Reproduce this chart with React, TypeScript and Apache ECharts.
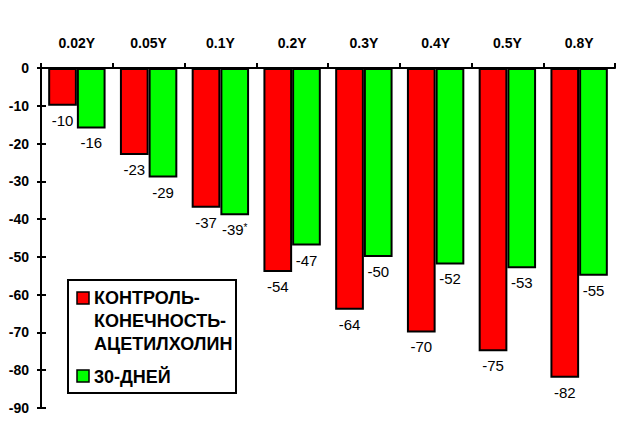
import React, { useEffect, useRef } from "react";
import * as echarts from "echarts";

const categories = ["0.02Y", "0.05Y", "0.1Y", "0.2Y", "0.3Y", "0.4Y", "0.5Y", "0.8Y"];
const controlValues = [-10, -23, -37, -54, -64, -70, -75, -82];
const dayValues = [-16, -29, -39, -47, -50, -52, -53, -55];
const dayMarks = ["", "", "*", "", "", "", "", ""];
const controlName = "КОНТРОЛЬ-\nКОНЕЧНОСТЬ-\nАЦЕТИЛХОЛИН";
const dayName = "30-ДНЕЙ";

const FONT = '"Liberation Sans", Arial, sans-serif';

export default function App() {
  const ref = useRef<HTMLDivElement>(null);
  useEffect(() => {
    document.body.style.margin = "0";
    if (!ref.current) return;
    const chart = echarts.init(ref.current, undefined, { renderer: "svg" });
    const labelBase = {
      show: true,
      position: "bottom" as const,
      distance: 7,
      color: "#000",
      fontFamily: FONT,
      fontSize: 15,
    };
    chart.setOption({
      animation: false,
      backgroundColor: "#fff",
      textStyle: { fontFamily: FONT },
      grid: { left: 41, right: 17, top: 68, bottom: 34, containLabel: false },
      xAxis: {
        type: "category",
        position: "top",
        data: categories,
        axisLine: { show: true, lineStyle: { color: "#000", width: 2 } },
        axisTick: { show: true, length: 5, lineStyle: { color: "#000", width: 2 } },
        axisLabel: { color: "#000", fontWeight: "bold", fontSize: 14, fontFamily: FONT, margin: 18 },
        splitLine: { show: false },
      },
      yAxis: [
        {
          type: "value",
          min: -90,
          max: 0,
          interval: 10,
          axisLine: { show: true, lineStyle: { color: "#000", width: 2 } },
          axisTick: { show: true, length: 4, lineStyle: { color: "#000", width: 2 } },
          axisLabel: { color: "#000", fontWeight: "bold", fontSize: 14, fontFamily: FONT, margin: 12 },
          splitLine: { show: false },
        },
        {
          type: "value",
          position: "left",
          min: -90,
          max: 0,
          interval: 10,
          axisLine: { show: false },
          axisTick: { show: true, inside: true, length: 5, lineStyle: { color: "#000", width: 2 } },
          axisLabel: { show: false },
          splitLine: { show: false },
        },
      ],
      series: [
        {
          name: controlName,
          type: "bar",
          data: controlValues,
          barGap: "0%",
          barCategoryGap: "20%",
          itemStyle: { color: "#ff0000", borderColor: "#000", borderWidth: 2 },
          label: { ...labelBase },
        },
        {
          name: dayName,
          type: "bar",
          data: dayValues,
          barGap: "0%",
          barCategoryGap: "20%",
          itemStyle: { color: "#00ff00", borderColor: "#000", borderWidth: 2 },
          label: {
            ...labelBase,
            formatter: (p: any) =>
              dayMarks[p.dataIndex] ? `{v|${p.value}}{s|${dayMarks[p.dataIndex]}}` : `{v|${p.value}}`,
            rich: {
              v: { fontSize: 15, fontFamily: FONT, color: "#000" },
              s: { fontSize: 10, fontFamily: FONT, color: "#000", padding: [0, 0, 5, 0] },
            },
          },
        },
      ],
      graphic: [
        {
          type: "rect",
          shape: { x: 68, y: 280, width: 168, height: 113 },
          style: { fill: "#fff", stroke: "#000", lineWidth: 2 },
          z: 10,
        },
        {
          type: "rect",
          shape: { x: 77, y: 292, width: 12, height: 12 },
          style: { fill: "#ff0000", stroke: "#000", lineWidth: 1.5 },
          z: 11,
        },
        {
          type: "text",
          x: 94,
          y: 286.5,
          style: {
            text: controlName,
            font: `bold 18px ${FONT}`,
            fill: "#000",
            lineHeight: 23,
            verticalAlign: "top",
          },
          z: 11,
        },
        {
          type: "rect",
          shape: { x: 77, y: 370, width: 12, height: 12 },
          style: { fill: "#00ff00", stroke: "#000", lineWidth: 1.5 },
          z: 11,
        },
        {
          type: "text",
          x: 94,
          y: 365,
          style: {
            text: dayName,
            font: `bold 18px ${FONT}`,
            fill: "#000",
            lineHeight: 23,
            verticalAlign: "top",
          },
          z: 11,
        },
      ],
    });
    return () => chart.dispose();
  }, []);
  return <div ref={ref} style={{ width: 632, height: 442 }} />;
}
